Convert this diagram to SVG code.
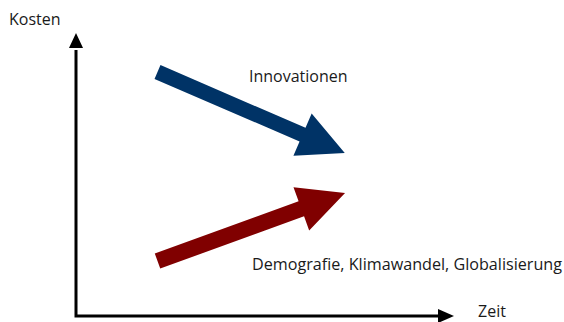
<svg xmlns="http://www.w3.org/2000/svg" width="564" height="322" viewBox="0 0 564 322">
<style>
text{font-family:"Open Sans","Noto Sans",sans-serif;font-size:16px;fill:#1a1a1a}
.axis{stroke:#000;stroke-width:3;fill:none}
.head{fill:#000}
</style>
<rect width="564" height="322" fill="#fff"/>
<g id="axes">
<path class="axis" d="M76,50 V316 H440"/>
<polygon class="head" points="76,33 69,48 83,48"/>
<polygon class="head" points="454,316 438,309 438,323"/>
</g>
<g id="labels">
<text x="9" y="25">Kosten</text>
<text x="478" y="317">Zeit</text>
</g>
<g id="connectors">
<g id="innovationen">
<polygon fill="#003366" transform="translate(157.5,72) rotate(23.37)" points="0,-7.5 158,-7.5 158,-23 204,0 158,23 158,7.5 0,7.5"/>
<text x="249" y="82">Innovationen</text>
</g>
<g id="demografie">
<polygon fill="#800000" transform="translate(157.5,261) rotate(-19.94)" points="0,-8 153,-8 153,-23 199.5,0 153,23 153,8 0,8"/>
<text x="252" y="270" textLength="310" lengthAdjust="spacingAndGlyphs">Demografie, Klimawandel, Globalisierung</text>
</g>
</g>
</svg>
